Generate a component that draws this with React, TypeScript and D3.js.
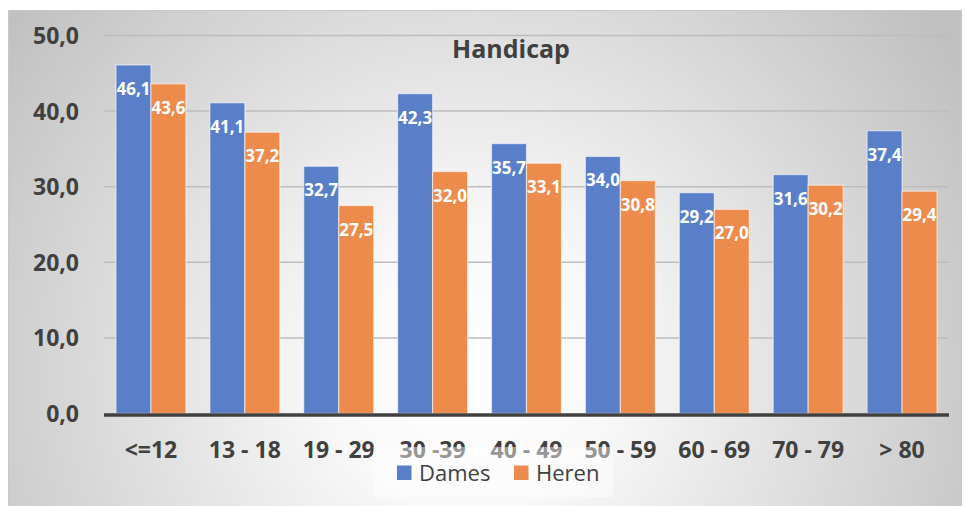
import React from "react";
import * as d3 from "d3";

const categories = ["<=12", "13 - 18", "19 - 29", "30 -39", "40 - 49", "50 - 59", "60 - 69", "70 - 79", "> 80"];
const dames = [46.1, 41.1, 32.7, 42.3, 35.7, 34.0, 29.2, 31.6, 37.4];
const heren = [43.6, 37.2, 27.5, 32.0, 33.1, 30.8, 27.0, 30.2, 29.4];
const yTicks = [0, 10, 20, 30, 40, 50];
const seriesNames = ["Dames", "Heren"];

const W = 966;
const H = 506;
const FONT = "'Open Sans', sans-serif";
const COLORS = ["#5a7fc9", "#ec8b4c"];
const fmt = (v: number) => v.toFixed(1).replace(".", ",");

export default function App() {
  const x = d3.scaleBand<string>().domain(categories).range([104, 949]).paddingInner(0.255).paddingOuter(0.1275);
  const x1 = d3.scaleBand<string>().domain(seriesNames).range([0, x.bandwidth()]).padding(0);
  const y = d3.scaleLinear().domain([0, 50]).range([413.5, 35.5]);
  const series = [dames, heren];

  return (
    <svg width={W} height={H} style={{ position: "absolute", left: 0, top: 0 }} fontFamily={FONT}>
      <defs>
        <radialGradient id="bg" gradientUnits="userSpaceOnUse" cx={470} cy={370} r={580}>
          <stop offset="0" stopColor="#ffffff" />
          <stop offset="0.25" stopColor="#f8f8f8" />
          <stop offset="1" stopColor="#c0c0c0" />
        </radialGradient>
      </defs>
      <rect x={0} y={0} width={W} height={H} fill="#ffffff" />
      <rect x={8.5} y={10.5} width={953} height={500} fill="url(#bg)" stroke="#c8c8c8" strokeWidth={1} />

      {yTicks.filter((t) => t > 0).map((t) => (
        <line key={t} x1={104} x2={949} y1={y(t)} y2={y(t)} stroke="#bdbdbd" strokeWidth={1.5} />
      ))}

      {series.map((vals, si) =>
        vals.map((v, i) => (
          <rect
            key={`${si}-${i}`}
            x={(x(categories[i]) as number) + (x1(seriesNames[si]) as number)}
            y={y(v)}
            width={x1.bandwidth()}
            height={y(0) - y(v)}
            fill={COLORS[si]}
            stroke="rgba(255,255,255,0.55)"
            strokeWidth={1.2}
          />
        ))
      )}

      {series.map((vals, si) =>
        vals.map((v, i) => (
          <text
            key={`l${si}-${i}`}
            x={(x(categories[i]) as number) + (x1(seriesNames[si]) as number) + x1.bandwidth() / 2}
            y={y(v) + 30}
            textAnchor="middle"
            fill="#ffffff"
            fontWeight="bold"
            fontSize={17}
          >
            {fmt(v)}
          </text>
        ))
      )}

      <line x1={104} x2={949} y1={415} y2={415} stroke="#404040" strokeWidth={3.5} />

      {yTicks.map((t) => (
        <text key={t} x={79} y={y(t) + 8.5} textAnchor="end" fill="#404040" fontWeight="bold" fontSize={23}>
          {fmt(t)}
        </text>
      ))}

      {categories.map((c) => (
        <text
          key={c}
          x={(x(c) as number) + x.bandwidth() / 2}
          y={458}
          textAnchor="middle"
          fill="#404040"
          fontWeight="bold"
          fontSize={23}
        >
          {c}
        </text>
      ))}

      <text x={511} y={57.5} textAnchor="middle" fill="#404040" fontWeight="bold" fontSize={25}>
        Handicap
      </text>

      <rect x={373} y={447} width={240} height={50} fill="#ffffff" opacity={0.45} />
      {seriesNames.map((n, i) => {
        const lx = i === 0 ? 397 : 514;
        return (
          <g key={n}>
            <rect x={lx} y={465.5} width={14.5} height={14.5} fill={COLORS[i]} />
            <text x={lx + 22} y={480.5} fill="#404040" fontSize={22}>
              {n}
            </text>
          </g>
        );
      })}
    </svg>
  );
}
